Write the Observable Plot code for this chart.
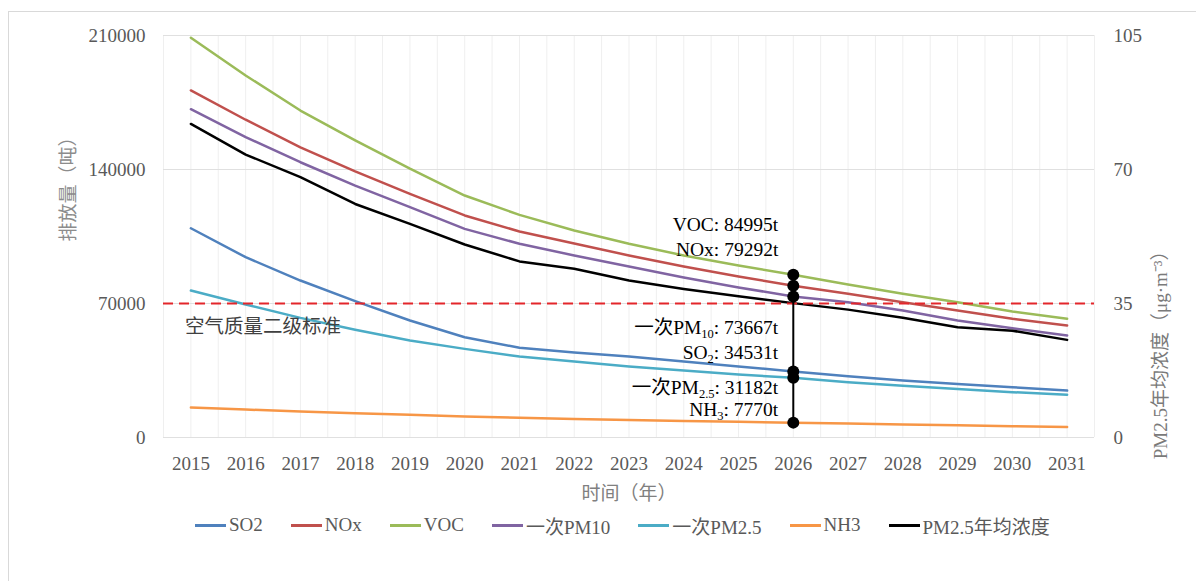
<!DOCTYPE html>
<html>
<head>
<meta charset="utf-8">
<script src="https://cdn.jsdelivr.net/npm/d3@7"></script>
<script src="https://cdn.jsdelivr.net/npm/@observablehq/plot@0.6"></script>
<style>
  html, body { margin: 0; padding: 0; background: #fff; }
  #wrap { position: relative; width: 1196px; height: 581px; overflow: hidden;
          font-family: "Liberation Serif", "Noto Sans CJK SC", serif; }
  #frame { position: absolute; left: 8px; top: 11px; width: 1300px; height: 700px;
           border: 1px solid #d9d9d9; box-sizing: border-box; }
  #chart { position: absolute; left: 0; top: 0; }
  #legend { position: absolute; left: 195px; top: 512px; height: 26px; display: flex;
            align-items: center; gap: 28px; font-size: 19px; color: #595959; white-space: nowrap; }
  #legend .item { display: flex; align-items: center; }
  #legend .swatch { display: inline-block; width: 31px; height: 3px; margin-right: 3px; }
</style>
</head>
<body>
<div id="wrap">
  <div id="frame"></div>
  <div id="chart"></div>
  <div id="legend"></div>
</div>
<script>
// ---------------- data ----------------
const years = [2015, 2016, 2017, 2018, 2019, 2020, 2021, 2022, 2023, 2024, 2025, 2026, 2027, 2028, 2029, 2030, 2031];

const so2  = [109300, 94200, 82000, 71200, 61100, 52400, 46900, 44400, 42300, 39700, 37100, 34531, 32000, 29800, 28000, 26300, 24500];
const nox  = [181300, 166000, 151600, 139000, 127300, 116000, 107600, 101300, 95100, 89300, 84100, 79292, 75100, 70700, 66300, 62000, 58500];
const voc  = [208800, 189100, 170800, 155200, 140400, 126400, 116300, 108100, 101200, 95100, 89900, 84995, 79900, 75100, 70700, 65800, 62000];
const pm10 = [171500, 156900, 143800, 131600, 120300, 109000, 101200, 95100, 89300, 83600, 78400, 73667, 70700, 66300, 61100, 57100, 53300];
const pm25 = [76800, 69500, 62500, 56300, 50700, 46300, 42300, 39700, 37100, 35000, 32900, 31182, 28900, 27000, 25400, 23700, 22300];
const nh3  = [15700, 14600, 13600, 12700, 11900, 11000, 10300, 9700, 9150, 8650, 8200, 7770, 7300, 6800, 6350, 5900, 5450];
const pm25Conc = [81.9, 73.9, 68.0, 61.0, 55.8, 50.4, 46.0, 44.1, 41.0, 38.8, 36.9, 35.1, 33.4, 31.3, 28.8, 27.9, 25.5];

const seriesNames  = ["SO2", "NOx", "VOC", "一次PM10", "一次PM2.5", "NH3", "PM2.5年均浓度"];
const seriesColors = ["#4f81bd", "#c0504d", "#9bbb59", "#8064a2", "#4bacc6", "#f79646", "#000000"];

const leftTicks  = [0, 70000, 140000, 210000];
const rightTicks = [0, 35, 70, 105];
const standard = 35;                      // 空气质量二级标准 (µg/m³)
const standardLabel = "空气质量二级标准";

const annoYear   = 2026;
const annoValues = [84995, 79292, 73667, 34531, 31182, 7770];
const annoPre    = ["VOC", "NOx", "一次PM", "SO", "一次PM", "NH"];
const annoSub    = ["", "", "10", "2", "2.5", "3"];
const annoPost   = [": 84995t", ": 79292t", ": 73667t", ": 34531t", ": 31182t", ": 7770t"];

const xTitle = "时间（年）";
const yLeftTitle = "排放量（吨）";
const yRightTitle = "PM2.5年均浓度（μg·m⁻³）";

// ---------------- build ----------------
const FONT = '"Liberation Serif", "Noto Sans CJK SC", serif';
const ratio = leftTicks[leftTicks.length - 1] / rightTicks[rightTicks.length - 1];
const seriesValues = [so2, nox, voc, pm10, pm25, nh3, pm25Conc.map(v => v * ratio)];
const rows = [];
seriesNames.forEach((s, i) => years.forEach((y, j) => rows.push({series: s, year: y, v: seriesValues[i][j]})));
const annos = annoValues.map((v, i) => ({year: annoYear, value: v, i}));
const gridX = d3.range(years[0] - 0.5, years[years.length - 1] + 0.51, 0.5);
const labelDy = [-50, -36, 31, -19, 10, -13];

const plot = Plot.plot({
  width: 1196, height: 500,
  marginLeft: 163, marginRight: 102, marginTop: 35, marginBottom: 63,
  style: {fontFamily: FONT, fontSize: "19px", color: "#595959", background: "transparent", overflow: "visible"},
  x: {domain: [years[0] - 0.5, years[years.length - 1] + 0.5], axis: null},
  y: {domain: [0, leftTicks[leftTicks.length - 1]], axis: null},
  color: {domain: seriesNames, range: seriesColors},
  marks: [
    Plot.ruleX(gridX, {stroke: "#efefef", strokeWidth: 1}),
    Plot.ruleY(leftTicks, {stroke: "#e0e0e0", strokeWidth: 1}),
    Plot.axisX({ticks: years, tickFormat: d => String(d), tickSize: 0, tickPadding: 19, label: null}),
    Plot.axisY({ticks: leftTicks, tickFormat: d => String(d), tickSize: 0, tickPadding: 18, label: null}),
    Plot.axisY({anchor: "right", ticks: leftTicks, tickFormat: d => String(d / ratio), tickSize: 0, tickPadding: 19, label: null}),
    Plot.line(rows, {x: "year", y: "v", z: "series", stroke: "series", strokeWidth: 2.5}),
    Plot.ruleY([standard * ratio], {stroke: "#e3262b", strokeWidth: 2, strokeDasharray: "10,6"}),
    Plot.text([standardLabel], {x: years[0], y: standard * ratio, text: d => d, textAnchor: "start", dx: -6, dy: 23,
      fill: "#404040", fontSize: 19.5, fontFamily: '"Noto Sans CJK SC", sans-serif'}),
    Plot.ruleX([annoYear], {y1: d3.min(annoValues), y2: d3.max(annoValues), stroke: "#000", strokeWidth: 2}),
    Plot.dot(annos, {x: "year", y: "value", r: 6, fill: "#000", stroke: "none"}),
    ...annos.map((d, i) => Plot.text([d], {x: "year", y: "value", text: () => annoPre[i] + annoSub[i] + annoPost[i],
      textAnchor: "end", dx: -15, dy: labelDy[i], fill: "#000", fontSize: 19.5, className: "anno-" + i})),
    Plot.text([xTitle], {frameAnchor: "bottom", text: d => d, lineAnchor: "middle", dy: 56, fill: "#808080", fontSize: 19,
      fontFamily: '"Noto Sans CJK SC", sans-serif'}),
    Plot.text([yLeftTitle], {frameAnchor: "left", text: d => d, rotate: -90, dx: -95, dy: 5, fill: "#8c8c8c", fontSize: 19,
      fontFamily: '"Noto Sans CJK SC", sans-serif'}),
    Plot.text([yRightTitle], {frameAnchor: "right", text: d => d, rotate: -90, dx: 66, dy: 5, fill: "#7a7a7a", fontSize: 19})
  ]
});
document.getElementById("chart").appendChild(plot);

// subscripts in annotation labels
annos.forEach((d, i) => {
  const t = plot.querySelector(".anno-" + i + " text");
  if (!t || !annoSub[i]) return;
  const sel = d3.select(t);
  sel.text(null);
  sel.append("tspan").text(annoPre[i]);
  sel.append("tspan").attr("dy", "4").attr("font-size", "12.5").text(annoSub[i]);
  sel.append("tspan").attr("dy", "-4").text(annoPost[i]);
});

// legend
const legend = d3.select("#legend");
seriesNames.forEach((s, i) => {
  const item = legend.append("div").attr("class", "item");
  item.append("span").attr("class", "swatch").style("background", seriesColors[i]);
  item.append("span").text(s);
});
</script>
</body>
</html>
